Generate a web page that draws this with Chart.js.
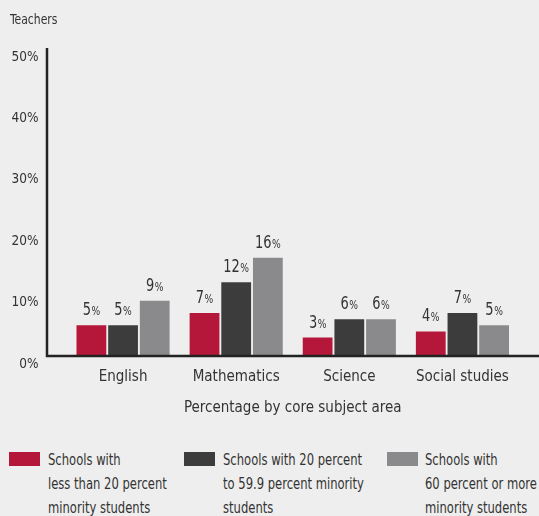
<!DOCTYPE html>
<html>
<head>
<meta charset="utf-8">
<script src="https://cdn.jsdelivr.net/npm/chart.js@4"></script>
<style>
  html,body{margin:0;padding:0;background:#eeeeee;}
  body{width:539px;height:516px;position:relative;overflow:hidden;font-family:"DejaVu Sans Condensed","Liberation Sans Narrow",sans-serif;color:#333;}
  #wrap{position:absolute;left:0;top:0;width:539px;height:432px;}
  #ytitle{position:absolute;left:10px;top:10px;font-size:14px;line-height:18px;color:#333;transform:scaleX(0.86);transform-origin:0 0;}
  .leg{position:absolute;top:448px;left:0;font-size:15.5px;line-height:24px;color:#333;}
  .sw{position:absolute;top:4px;width:31px;height:14px;}
  .txt{position:absolute;top:0;white-space:nowrap;transform:scaleX(0.83);transform-origin:0 0;}
</style>
</head>
<body>
<div id="wrap"><canvas id="c"></canvas></div>
<div id="ytitle">Teachers</div>
<div id="legend"></div>
<script>
const categories = ["English", "Mathematics", "Science", "Social studies"];
const seriesNames = [
  ["Schools with", "less than 20 percent", "minority students"],
  ["Schools with 20 percent", "to 59.9 percent minority", "students"],
  ["Schools with", "60 percent or more", "minority students"]
];
const lessThan20 = [5, 7, 3, 4];
const from20to59 = [5, 12, 6, 7];
const over60 = [9, 16, 6, 5];
const yTicks = [0, 10, 20, 30, 40, 50];
const colors = ["#b5173a", "#3c3c3c", "#8a8a8c"];

const FONT = '"DejaVu Sans Condensed","Liberation Sans Narrow",sans-serif';

// legend (HTML)
const legendPos = [{sw:9, tx:48}, {sw:184, tx:223}, {sw:387, tx:425}];
const legEl = document.getElementById('legend');
seriesNames.forEach((lines, i) => {
  const d = document.createElement('div');
  d.className = 'leg';
  const sw = document.createElement('div');
  sw.className = 'sw';
  sw.style.left = legendPos[i].sw + 'px';
  sw.style.background = colors[i];
  const t = document.createElement('div');
  t.className = 'txt';
  t.style.left = legendPos[i].tx + 'px';
  t.innerHTML = lines.join('<br>');
  d.appendChild(sw); d.appendChild(t);
  legEl.appendChild(d);
});

const axisLines = {
  id: 'axisLines',
  afterDraw(chart) {
    const {ctx, chartArea} = chart;
    const x0 = chartArea.left - 19.5;
    ctx.save();
    ctx.strokeStyle = '#222';
    ctx.lineWidth = 2.5;
    ctx.beginPath();
    ctx.moveTo(x0, chartArea.top - 1);
    ctx.lineTo(x0, chartArea.bottom);
    ctx.lineTo(chart.width, chartArea.bottom);
    ctx.stroke();
    ctx.restore();
  }
};

const valueLabels = {
  id: 'valueLabels',
  afterDatasetsDraw(chart) {
    const {ctx} = chart;
    ctx.save();
    ctx.fillStyle = '#333';
    ctx.textBaseline = 'alphabetic';
    ctx.textAlign = 'left';
    chart.data.datasets.forEach((ds, di) => {
      chart.getDatasetMeta(di).data.forEach((bar, i) => {
        const num = String(ds.data[i]);
        const sx = 0.85;
        ctx.font = '17px ' + FONT;
        const w1 = ctx.measureText(num).width * sx;
        ctx.font = '12px ' + FONT;
        const w2 = ctx.measureText('%').width * sx;
        const x = bar.x - (w1 + w2 + 0.5) / 2;
        const y = bar.y - 10;
        ctx.save();
        ctx.translate(x, y);
        ctx.scale(sx, 1);
        ctx.font = '17px ' + FONT;
        ctx.fillText(num, 0, 0);
        ctx.font = '12px ' + FONT;
        ctx.fillText('%', (w1 + 0.5) / sx, 0);
        ctx.restore();
      });
    });
    ctx.restore();
  }
};

new Chart(document.getElementById('c'), {
  type: 'bar',
  data: {
    labels: categories,
    datasets: [
      {label: seriesNames[0].join(' '), data: lessThan20, backgroundColor: colors[0]},
      {label: seriesNames[1].join(' '), data: from20to59, backgroundColor: colors[1]},
      {label: seriesNames[2].join(' '), data: over60, backgroundColor: colors[2]}
    ]
  },
  options: {
    responsive: true,
    maintainAspectRatio: false,
    animation: false,
    categoryPercentage: 0.84,
    barPercentage: 0.94,
    layout: {padding: {left: 0, right: 20, top: 49, bottom: 11}},
    plugins: {legend: {display: false}, tooltip: {enabled: false}},
    scales: {
      x: {
        afterFit(scale) { scale.height = 65; },
        grid: {display: false, drawTicks: false},
        border: {display: false},
        ticks: {color: '#333', padding: 12, font: {family: FONT, size: 15}},
        title: {display: true, text: 'Percentage by core subject area', color: '#333',
                font: {family: FONT, size: 15}, padding: {top: 4, bottom: 4}}
      },
      y: {
        min: 0, max: 50,
        afterBuildTicks(scale) { scale.ticks = yTicks.map(v => ({value: v})); },
        afterFit(scale) { scale.width = 66.5; },
        grid: {display: false, drawTicks: false},
        border: {display: false},
        ticks: {color: '#333', padding: 28, labelOffset: 8,
                font: {family: FONT, size: 13.5},
                callback: v => v + '%'}
      }
    }
  },
  plugins: [axisLines, valueLabels]
});
</script>
</body>
</html>
